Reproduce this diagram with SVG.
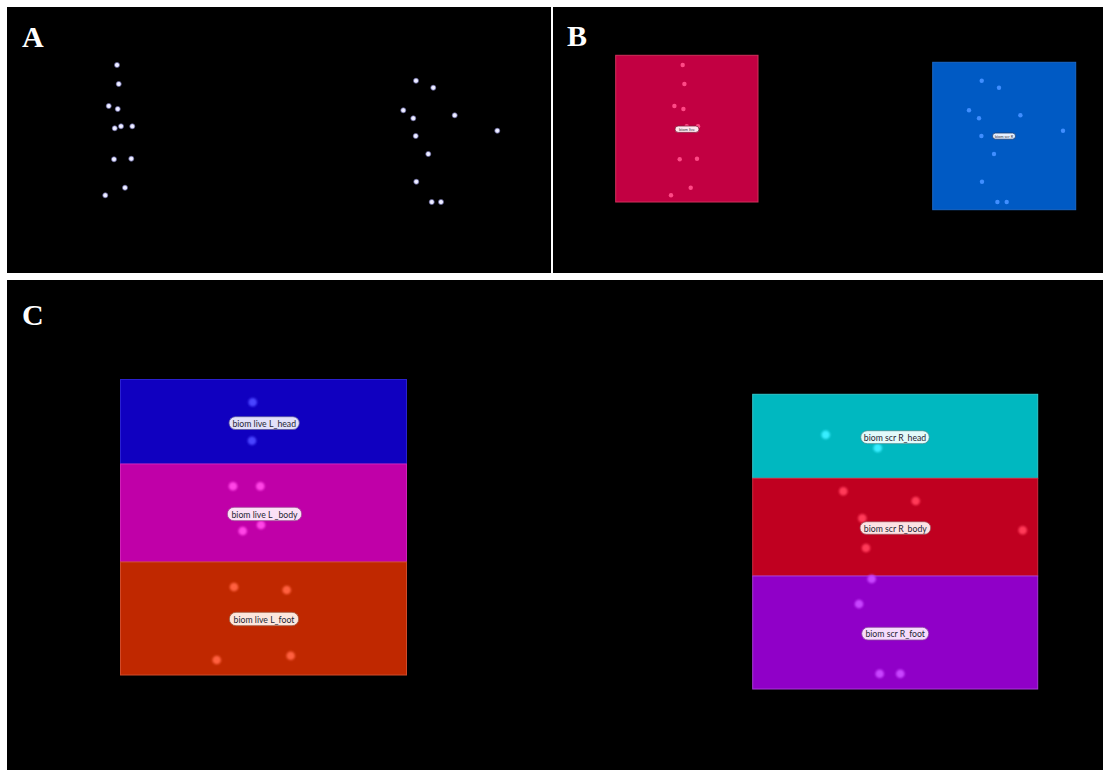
<svg xmlns="http://www.w3.org/2000/svg" width="1109" height="776" viewBox="0 0 1109 776">
  <defs>
    <radialGradient id="dotA">
      <stop offset="0" stop-color="#ffffff"/>
      <stop offset="0.5" stop-color="#dcdcff"/>
      <stop offset="1" stop-color="#9a9aff" stop-opacity="0"/>
    </radialGradient>
    <filter id="soft" x="-50%" y="-50%" width="200%" height="200%">
      <feGaussianBlur stdDeviation="0.6"/>
    </filter>
    <filter id="glow" x="-80%" y="-80%" width="260%" height="260%">
      <feGaussianBlur stdDeviation="1.1"/>
    </filter>
  </defs>
  <style>
    .panel { fill: #000000; }
    .letter { font-family: "Liberation Serif", "Times New Roman", serif; font-weight: bold; font-size: 30px; fill: #ffffff; }
    .dotA { fill: url(#dotA); }
    .pill { stroke-width: 0.8; }
    .lbl { font-family: Lato, "Open Sans", "DejaVu Sans", sans-serif; font-size: 8.7px; fill: #262634; text-anchor: middle; dominant-baseline: central; }
    .tiny { font-family: Lato, "DejaVu Sans", sans-serif; font-size: 4px; fill: #303040; text-anchor: middle; dominant-baseline: central; }
    .part { stroke-width: 1; }
  </style>

  <!-- page background and the three panels -->
  <rect x="0" y="0" width="1109" height="776" fill="#ffffff"/>
  <rect class="panel" x="7" y="7" width="544" height="266"/>
  <rect class="panel" x="553" y="7" width="550" height="266"/>
  <rect class="panel" x="7" y="280" width="1096" height="490"/>

  <text class="letter" x="22" y="47">A</text>
  <text class="letter" x="567" y="46">B</text>
  <text class="letter" x="22" y="325">C</text>

  <!-- Panel A: point-light figures -->
  <g id="figureA-left" filter="url(#soft)">
    <circle class="dotA" cx="117" cy="65" r="3.4"/>
    <circle class="dotA" cx="118.7" cy="84" r="3.4"/>
    <circle class="dotA" cx="108.7" cy="106" r="3.4"/>
    <circle class="dotA" cx="117.7" cy="109" r="3.4"/>
    <circle class="dotA" cx="114.7" cy="128.3" r="3.4"/>
    <circle class="dotA" cx="121" cy="126.3" r="3.4"/>
    <circle class="dotA" cx="132.3" cy="126.3" r="3.4"/>
    <circle class="dotA" cx="114" cy="159.3" r="3.4"/>
    <circle class="dotA" cx="131.3" cy="158.7" r="3.4"/>
    <circle class="dotA" cx="125" cy="187.7" r="3.4"/>
    <circle class="dotA" cx="105.3" cy="195.3" r="3.4"/>
  </g>
  <g id="figureA-right" filter="url(#soft)">
    <circle class="dotA" cx="416" cy="80.7" r="3.4"/>
    <circle class="dotA" cx="433.3" cy="87.7" r="3.4"/>
    <circle class="dotA" cx="403.3" cy="110.3" r="3.4"/>
    <circle class="dotA" cx="413.3" cy="118.3" r="3.4"/>
    <circle class="dotA" cx="454.7" cy="115.3" r="3.4"/>
    <circle class="dotA" cx="497.3" cy="130.7" r="3.4"/>
    <circle class="dotA" cx="415.7" cy="136" r="3.4"/>
    <circle class="dotA" cx="428.3" cy="154" r="3.4"/>
    <circle class="dotA" cx="416.3" cy="181.7" r="3.4"/>
    <circle class="dotA" cx="431.7" cy="202" r="3.4"/>
    <circle class="dotA" cx="441" cy="202" r="3.4"/>
  </g>

  <!-- Panel B: whole-body regions -->
  <g id="regionB-live">
    <rect x="615.7" y="55.3" width="142.3" height="146.7" fill="#c20042" stroke="#d0305a" stroke-width="1"/>
    <g fill="#ff4a86" filter="url(#soft)">
      <circle cx="682.7" cy="65" r="2.2"/>
      <circle cx="684.4" cy="84" r="2.2"/>
      <circle cx="674.4" cy="106" r="2.2"/>
      <circle cx="683.4" cy="109" r="2.2"/>
      <circle cx="680.4" cy="128.3" r="2.2"/>
      <circle cx="686.7" cy="126.3" r="2.2"/>
      <circle cx="698" cy="126.3" r="2.2"/>
      <circle cx="679.7" cy="159.3" r="2.2"/>
      <circle cx="697" cy="158.7" r="2.2"/>
      <circle cx="690.7" cy="187.7" r="2.2"/>
      <circle cx="671" cy="195.3" r="2.2"/>
    </g>
    <rect class="pill" x="675" y="126" width="24" height="6.4" rx="3.2" fill="#ffe6ee" stroke="#80203c"/>
    <text class="tiny" x="687" y="129.2">biom live</text>
  </g>
  <g id="regionB-scr">
    <rect x="932.7" y="62.3" width="143" height="147.4" fill="#005ac4" stroke="#1a68c8" stroke-width="1"/>
    <g fill="#3f8eff" filter="url(#soft)">
      <circle cx="981.7" cy="80.7" r="2.2"/>
      <circle cx="999" cy="87.7" r="2.2"/>
      <circle cx="969" cy="110.3" r="2.2"/>
      <circle cx="979" cy="118.3" r="2.2"/>
      <circle cx="1020.4" cy="115.3" r="2.2"/>
      <circle cx="1063" cy="130.7" r="2.2"/>
      <circle cx="981.4" cy="136" r="2.2"/>
      <circle cx="994" cy="154" r="2.2"/>
      <circle cx="982" cy="181.7" r="2.2"/>
      <circle cx="997.4" cy="202" r="2.2"/>
      <circle cx="1006.7" cy="202" r="2.2"/>
    </g>
    <rect class="pill" x="992.5" y="133" width="23" height="6.2" rx="3.1" fill="#e6f0ff" stroke="#1a3c70"/>
    <text class="tiny" x="1004" y="136.1">biom scr R</text>
  </g>

  <!-- Panel C: body-part regions, live figure -->
  <g id="live-head">
    <rect class="part" x="120.5" y="379.5" width="286" height="84.5" fill="#1000c0" stroke="#2a20d0"/>
    <g fill="#4a44ff" filter="url(#glow)">
      <circle cx="252.7" cy="402.3" r="4.3"/>
      <circle cx="252" cy="440.7" r="4.3"/>
    </g>
    <rect class="pill" x="229" y="416.7" width="70.3" height="12.8" rx="6.4" fill="#e2e0fa" stroke="#5a58a0"/>
    <text class="lbl" x="264.2" y="423.1">biom live L_head</text>
  </g>
  <g id="live-body">
    <rect class="part" x="120.5" y="464" width="286" height="98" fill="#c000a8" stroke="#d020b8"/>
    <g fill="#ff44e6" filter="url(#glow)">
      <circle cx="233" cy="486.3" r="4.3"/>
      <circle cx="260.3" cy="486.3" r="4.3"/>
      <circle cx="261" cy="525" r="4.3"/>
      <circle cx="242.7" cy="531" r="4.3"/>
    </g>
    <rect class="pill" x="227.3" y="507.3" width="74.4" height="13.4" rx="6.7" fill="#fbe0f6" stroke="#a04a96"/>
    <text class="lbl" x="264.5" y="514">biom live L _body</text>
  </g>
  <g id="live-foot">
    <rect class="part" x="120.5" y="562" width="286" height="113" fill="#c02800" stroke="#d04a2a"/>
    <g fill="#ff6040" filter="url(#glow)">
      <circle cx="234" cy="587" r="4.3"/>
      <circle cx="286.7" cy="590" r="4.3"/>
      <circle cx="216.7" cy="660" r="4.3"/>
      <circle cx="290.7" cy="655.7" r="4.3"/>
    </g>
    <rect class="pill" x="229.3" y="612.3" width="69.4" height="13.4" rx="6.7" fill="#fce6dc" stroke="#a05a40"/>
    <text class="lbl" x="264" y="619">biom live L_foot</text>
  </g>

  <!-- Panel C: body-part regions, scrambled figure -->
  <g id="scr-head">
    <rect class="part" x="752.7" y="394.3" width="285" height="84" fill="#00b8c0" stroke="#30c8cc"/>
    <g fill="#38eeff" filter="url(#glow)">
      <circle cx="825.7" cy="434.7" r="4.3"/>
      <circle cx="877.7" cy="448" r="4.3"/>
    </g>
    <rect class="pill" x="860.7" y="430.7" width="68.6" height="13" rx="6.5" fill="#e2fafa" stroke="#3a8c90"/>
    <text class="lbl" x="895" y="437.2">biom scr R_head</text>
  </g>
  <g id="scr-body">
    <rect class="part" x="752.7" y="478.3" width="285" height="97.7" fill="#c00020" stroke="#d02a40"/>
    <g fill="#ff3a58" filter="url(#glow)">
      <circle cx="843.3" cy="491.3" r="4.3"/>
      <circle cx="915.7" cy="501" r="4.3"/>
      <circle cx="862.3" cy="518.3" r="4.3"/>
      <circle cx="1022.7" cy="530.3" r="4.3"/>
      <circle cx="866" cy="548" r="4.3"/>
    </g>
    <rect class="pill" x="860" y="521.7" width="70.7" height="12.6" rx="6.3" fill="#fce2e4" stroke="#a04a54"/>
    <text class="lbl" x="895.3" y="528">biom scr R_body</text>
  </g>
  <g id="scr-foot">
    <rect class="part" x="752.7" y="576" width="285" height="113" fill="#9000c8" stroke="#a838d8"/>
    <g fill="#c844ff" filter="url(#glow)">
      <circle cx="871.7" cy="579" r="4.3"/>
      <circle cx="859" cy="604" r="4.3"/>
      <circle cx="879.7" cy="673.7" r="4.3"/>
      <circle cx="900.3" cy="673.7" r="4.3"/>
    </g>
    <rect class="pill" x="861.7" y="627.3" width="67" height="12.7" rx="6.3" fill="#f6dcfc" stroke="#8a4aa0"/>
    <text class="lbl" x="895.2" y="633.7">biom scr R_foot</text>
  </g>
</svg>
